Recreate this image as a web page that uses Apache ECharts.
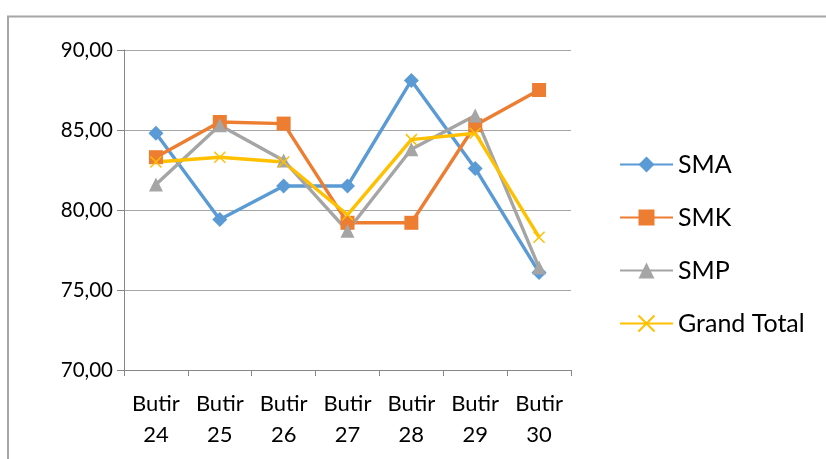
<!DOCTYPE html>
<html>
<head>
<meta charset="utf-8">
<script src="https://cdn.jsdelivr.net/npm/echarts@6/dist/echarts.min.js"></script>
<style>
  html, body { margin: 0; padding: 0; background: #fff; }
  #chart { width: 826px; height: 459px; }
</style>
</head>
<body>
<div id="chart"></div>
<script>
// Item categories on the x axis
const categories = ['Butir\n24', 'Butir\n25', 'Butir\n26', 'Butir\n27', 'Butir\n28', 'Butir\n29', 'Butir\n30'];

// Mean score per school type
const smaValues = [84.8, 79.4, 81.5, 81.5, 88.1, 82.6, 76.1];
const smkValues = [83.3, 85.5, 85.4, 79.2, 79.2, 85.3, 87.5];
const smpValues = [81.6, 85.3, 83.1, 78.7, 83.8, 85.9, 76.4];
const grandTotalValues = [83.0, 83.3, 83.0, 79.7, 84.4, 84.8, 78.3];

const yTicks = [70, 75, 80, 85, 90];

const FONT = 'Lato';
const crossPath = 'path://M0,0 L10,10 M10,0 L0,10';

function lineSeries(name, data, color, symbol, size) {
  const cross = symbol === crossPath;
  return {
    name: name,
    type: 'line',
    data: data,
    symbol: symbol,
    symbolSize: size,
    showAllSymbol: true,
    lineStyle: { color: color, width: 3.4 },
    itemStyle: cross
      ? { color: 'none', borderColor: color, borderWidth: 1.5 }
      : { color: color, borderWidth: 0 },
    emphasis: { disabled: true },
    animation: false
  };
}

const chart = echarts.init(document.getElementById('chart'), null, { renderer: 'canvas' });

chart.setOption({
  backgroundColor: '#fff',
  animation: false,
  textStyle: { fontFamily: FONT },
  graphic: [{
    type: 'polyline',
    shape: { points: [[8, 459], [8, 16.5], [826, 16.5]] },
    style: { stroke: '#a6a6a6', lineWidth: 2, fill: 'none' },
    silent: true
  }],
  grid: { left: 124, right: 255, top: 50, bottom: 89 },
  legend: {
    orient: 'vertical',
    left: 619,
    top: 152,
    padding: 0,
    itemWidth: 53,
    itemHeight: 20,
    itemGap: 28,
    textStyle: { fontFamily: FONT, fontSize: 25, color: '#000', lineHeight: 20 },
    data: ['SMA', 'SMK', 'SMP', 'Grand Total']
  },
  xAxis: {
    type: 'category',
    data: categories,
    boundaryGap: true,
    axisLine: { lineStyle: { color: '#868686', width: 1 } },
    axisTick: { show: true, length: 6, lineStyle: { color: '#868686' } },
    axisLabel: {
      interval: 0,
      fontFamily: FONT,
      fontSize: 22,
      color: '#000',
      lineHeight: 31,
      margin: 18
    },
    splitLine: { show: false }
  },
  yAxis: {
    type: 'value',
    min: yTicks[0],
    max: yTicks[yTicks.length - 1],
    interval: 5,
    axisLine: { show: true, lineStyle: { color: '#868686', width: 1 } },
    axisTick: { show: true, length: 7, lineStyle: { color: '#868686' } },
    axisLabel: {
      fontFamily: FONT,
      fontSize: 20.5,
      color: '#000',
      margin: 11,
      formatter: v => v.toFixed(2).replace('.', ',')
    },
    splitLine: { show: true, lineStyle: { color: '#a6a6a6', width: 1 } }
  },
  series: [
    lineSeries('SMA', smaValues, '#5B9BD5', 'diamond', 15),
    lineSeries('SMK', smkValues, '#ED7D31', 'rect', 14),
    lineSeries('SMP', smpValues, '#A5A5A5', 'triangle', 14),
    lineSeries('Grand Total', grandTotalValues, '#FFC000', crossPath, 11)
  ]
});
</script>
</body>
</html>
